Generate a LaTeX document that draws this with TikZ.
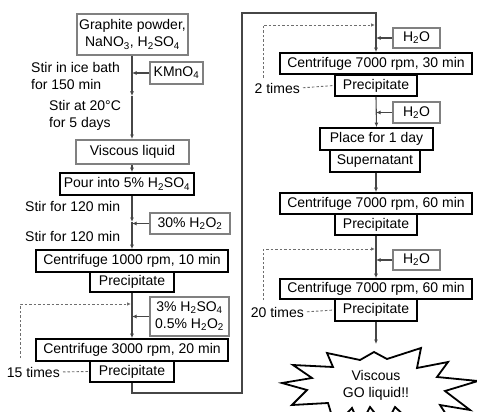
\documentclass[tikz,border=0pt]{standalone}
\usepackage{fontspec}
\setmainfont{Liberation Sans}
\usepackage{tikz}
\usetikzlibrary{arrows.meta,calc,positioning}
\definecolor{boxgray}{RGB}{128,128,128}
\definecolor{linegray}{RGB}{70,70,70}
\definecolor{dashgray}{RGB}{110,110,110}

\begin{document}
\begin{tikzpicture}[x=1pt, y=-1pt,
    every node/.style={font=\fontsize{14}{17}\selectfont},
    gbox/.style={draw=boxgray, line width=2pt, fill=white, inner sep=1pt, align=center},
    bbox/.style={draw=black, line width=1.8pt, fill=white, inner sep=1pt, align=center},
    note/.style={align=left, inner sep=0pt},
    flow/.style={draw=linegray, line width=1.1pt, -{Latex[length=4.5pt,width=4pt]}},
    loopback/.style={draw=dashgray, line width=0.9pt, dash pattern=on 2.5pt off 2pt}]
  \clip (0,0) rectangle (477,412);
  % ---------------- LEFT COLUMN ----------------
  \node[gbox, minimum width=111pt, minimum height=41pt] (graphite) at (132.5,34.5)
    {Graphite powder,\\NaNO\textsubscript{3}, H\textsubscript{2}SO\textsubscript{4}};
  \node[gbox, minimum width=53pt, minimum height=22pt] (kmno) at (176.5,73) {KMnO\textsubscript{4}};
  \node[note, anchor=west] (ice) at (31,76) {Stir in ice bath\\for 150 min};
  \coordinate (c1) at (132,96);
  \node[note, anchor=west] (warm) at (49,115) {Stir at 20°C\\for 5 days};
  \node[gbox, minimum width=113pt, minimum height=24pt] (viscous) at (132.5,152) {Viscous liquid};
  \node[bbox, minimum width=134pt, minimum height=22pt] (pour) at (127,184)
    {Pour into 5\% H\textsubscript{2}SO\textsubscript{4}};
  \node[note, anchor=west] (stirA) at (25,206) {Stir for 120 min};
  \coordinate (c2) at (132,222);
  \node[gbox, minimum width=80pt, minimum height=21pt] (perox) at (190,223.5) {30\% H\textsubscript{2}O\textsubscript{2}};
  \node[note, anchor=west] (stirB) at (25,236) {Stir for 120 min};
  \node[bbox, minimum width=192pt, minimum height=22pt] (cf1) at (132,261) {Centrifuge 1000 rpm, 10 min};
  \node[bbox, minimum width=84pt, minimum height=20pt] (pre1) at (132,282) {Precipitate};
  \node[gbox, minimum width=79pt, minimum height=39pt] (mix) at (189.5,316.5)
    {3\% H\textsubscript{2}SO\textsubscript{4}\\0.5\% H\textsubscript{2}O\textsubscript{2}};
  \node[bbox, minimum width=192pt, minimum height=22pt] (cf2) at (132,350) {Centrifuge 3000 rpm, 20 min};
  \node[bbox, minimum width=84pt, minimum height=21pt] (pre2) at (132,371.5) {Precipitate};
  \node[note, anchor=east] (n15) at (60,372) {15 times};
  \coordinate (back1) at (20,358);
  \coordinate (arr1) at (131,304);

  \draw[flow] (graphite.south -| c1) -- (c1);
  \draw[flow] (c1) -- (viscous.north -| c1);
  \draw[flow] (kmno.west) -- (kmno.west -| c1);
  \draw[flow] (viscous.south -| c1) -- (pour.north -| c1);
  \draw[flow] (pour.south -| c2) -- (c2);
  \draw[flow] (c2) -- (cf1.north);
  \draw[flow] (perox.west) -- (perox.west -| c2);
  \draw[flow] (pre1.south) -- (cf2.north);
  \draw[flow] (mix.west) -- (mix.west -| cf2);
  \draw[loopback, -{Latex[length=4pt,width=3.5pt]}] (back1) |- (arr1);
  \draw[loopback, shorten <=3pt] (n15.east) -- (pre2.west);

  % ---------------- CROSSOVER ----------------
  \coordinate (turnA) at (242,393);
  \coordinate (turnB) at (242,13);

  % ---------------- RIGHT COLUMN ----------------
  \node[gbox, minimum width=47pt, minimum height=20pt] (water1) at (416.5,38) {H\textsubscript{2}O};
  \node[bbox, minimum width=192pt, minimum height=21pt] (cf3) at (376,63.5) {Centrifuge 7000 rpm, 30 min};
  \node[bbox, minimum width=82pt, minimum height=21pt] (pre3) at (376,85.5) {Precipitate};
  \node[note, anchor=east] (n2) at (300,88) {2 times};
  \coordinate (back3) at (263,78);
  \coordinate (arr3) at (375,25);
  \node[gbox, minimum width=47pt, minimum height=21pt] (water2) at (416.5,112.5) {H\textsubscript{2}O};
  \node[bbox, minimum width=113pt, minimum height=22pt] (place) at (376.5,139) {Place for 1 day};
  \node[bbox, minimum width=90pt, minimum height=22pt] (super) at (375,161) {Supernatant};
  \node[bbox, minimum width=192pt, minimum height=21pt] (cf4) at (376,203.5) {Centrifuge 7000 rpm, 60 min};
  \node[bbox, minimum width=82pt, minimum height=21pt] (pre4) at (376,224.5) {Precipitate};
  \coordinate (back4) at (263,300);
  \coordinate (arr4) at (375,249);
  \node[gbox, minimum width=47pt, minimum height=20pt] (water3) at (416.5,260) {H\textsubscript{2}O};
  \node[bbox, minimum width=192pt, minimum height=20pt] (cf5) at (376,289) {Centrifuge 7000 rpm, 60 min};
  \node[bbox, minimum width=82pt, minimum height=22pt] (pre5) at (376,310) {Precipitate};
  \node[note, anchor=east] (n20) at (304,312) {20 times};
  \coordinate (startop) at (376,344);

  \draw[flow] (pre2.south) |- (turnA) -- (turnB) -| (cf3.north);
  \draw[flow] (water1.west) -- (water1.west -| cf3);
  \draw[loopback, -{Latex[length=4pt,width=3.5pt]}] (back3) |- (arr3);
  \draw[loopback, shorten <=3pt] (n2.east) -- (pre3.west);
  \draw[flow] (pre3.south) -- (place.north);
  \draw[flow] (water2.west) -- (water2.west -| pre3);
  \draw[flow] (super.south -| cf4) -- (cf4.north);
  \draw[flow] (pre4.south) -- (cf5.north);
  \draw[flow] (water3.west) -- (water3.west -| pre4);
  \draw[loopback, -{Latex[length=4pt,width=3.5pt]}] (back4) |- (arr4);
  \draw[loopback, shorten <=3pt] (n20.east) -- (pre5.west);
  \draw[flow] (pre5.south) -- (startop);

  % ---------------- RESULT ----------------
  \draw[line width=1.8pt, line join=miter, fill=white]
    (374,352) -- (387,359) -- (421,348) -- (417,368) -- (448,362) -- (437,377)
    -- (478,381) -- (445,391) -- (470,410) -- (440,405) -- (455,428) -- (412,416)
    -- (420,430) -- (395,407) -- (385,426) -- (370,407) -- (360,426) -- (352,408)
    -- (335,426) -- (328,403) -- (292,405) -- (307,390) -- (282,383) -- (312,378)
    -- (293,365) -- (333,367) -- (327,353) -- (360,360) -- cycle;
  \node[align=center, inner sep=0pt] (golq) at (376,385) {Viscous\\GO liquid!!};
\end{tikzpicture}
\end{document}
